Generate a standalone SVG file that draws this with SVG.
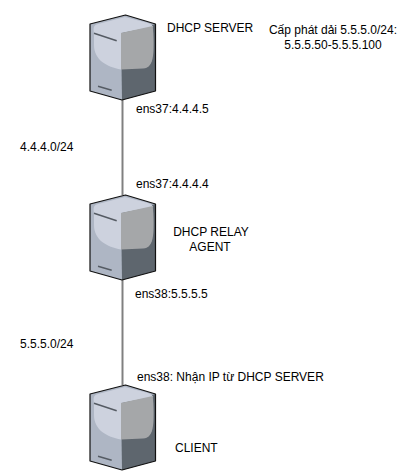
<svg xmlns="http://www.w3.org/2000/svg" width="412" height="472" viewBox="0 0 412 472">
<style>
text{font-family:"Liberation Sans",Arial,sans-serif;font-size:12px;fill:#000}
.m{text-anchor:middle}
.link{stroke:#808080;stroke-width:2;fill:none}
</style>
<defs>
<g id="server">
<path d="M90,24L125.500,15L155.500,24L155.500,91L122,100L90,91Z" fill="#aeb6c4"/>
<path d="M121,33L155.500,24L155.500,91L122,100Z" fill="#5e666e"/>
<path d="M94,33C93,27 94,25 98,24L125,17L148,23C151,24 153,26 153,27L121,33L121,69.500C107,67 94,60 94,45Z" fill="#cdd2de"/>
<path d="M121,33L152.700,26C153.700,35 154,48 153,56C152,64 149,68 143,68.500L121,69.500Z" fill="#a5a7a9"/>
<path d="M94,33.300L116.700,40.700M98,86.300L111.700,90.300" stroke="#555b63" stroke-width="1.500" fill="none"/>
<path d="M90,24L125.500,15L155.500,24L155.500,91L122,100L90,91Z" fill="none" stroke="#111" stroke-width="1.200" stroke-linejoin="round"/>
</g>
</defs>
<rect width="412" height="472" fill="#fff"/>
<g id="connectors">
<path class="link" d="M122.500,100V195"/>
<path class="link" d="M122.500,280V385"/>
</g>
<g id="dhcp-server">
<use href="#server"/>
<text x="167" y="32">DHCP SERVER</text>
</g>
<g id="dhcp-relay">
<use href="#server" y="180"/>
<text class="m" x="211" y="236">DHCP RELAY</text>
<text class="m" x="210" y="251">AGENT</text>
</g>
<g id="client">
<use href="#server" y="370"/>
<text x="175" y="452">CLIENT</text>
</g>
<g id="labels">
<text class="m" x="333" y="34">Cấp phát dải 5.5.5.0/24:</text>
<text class="m" x="333" y="49">5.5.5.50-5.5.5.100</text>
<text x="136" y="113">ens37:4.4.4.5</text>
<text x="20" y="151">4.4.4.0/24</text>
<text x="136" y="188">ens37:4.4.4.4</text>
<text x="135" y="298">ens38:5.5.5.5</text>
<text x="20" y="348">5.5.5.0/24</text>
<text x="137" y="381">ens38: Nhận IP từ DHCP SERVER</text>
</g>
</svg>
